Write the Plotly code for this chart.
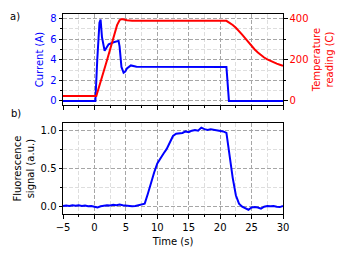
import plotly.graph_objects as go

# ---- data ----
current_time = [-5, 0.15, 0.45, 0.8, 0.98, 1.2, 1.62, 1.9, 2.26, 3.05, 3.84, 4.0, 4.3, 4.64, 4.9, 5.17, 5.8, 6.7, 10, 15, 21.0, 21.4, 30]
current_a = [0, 0, 4.0, 7.6, 7.9, 6.2, 4.87, 5.1, 5.5, 5.7, 5.83, 5.3, 3.3, 2.74, 2.85, 3.16, 3.45, 3.33, 3.33, 3.32, 3.3, 0, 0]

temp_time = [-5, 0.3, 2.0, 3.6, 4.0, 4.38, 5.17, 6.0, 21.0, 21.5, 22, 22.5, 23, 23.5, 24, 24.5, 25, 25.5, 26,
             26.5, 27, 27.5, 28, 28.5, 29, 29.5, 30]
temp_c = [24, 24, 198, 368, 392, 398, 392, 389, 389, 381, 369, 355, 340, 322, 304, 285, 267, 250, 235,
          222, 211, 202, 194, 187, 181, 176, 171]

fluo_time = [-5.0, -4.5, -4.0, -3.5, -3.0, -2.5, -2.0, -1.5, -1.0, -0.5, 0.0, 0.5, 1.0, 1.5, 2.0, 2.5,
             3.0, 3.5, 4.0, 4.5, 5.0, 5.5, 6.0, 6.5, 7.0, 7.5, 8.0, 8.5, 9.0, 9.5, 10.0, 10.5, 11.0,
             11.5, 12.0, 12.5, 13.0, 13.5, 14.0, 14.5, 15.0, 15.5, 16.0, 16.5, 17.0, 17.5, 18.0, 18.5,
             19.0, 19.5, 20.0, 20.5, 21.0, 21.5, 22.0, 22.5, 23.0, 23.5, 24.0, 24.5, 25.0, 25.5, 26.0,
             26.5, 27.0, 27.5, 28.0, 28.5, 29.0, 29.5, 30.0]
fluo_signal = [0.01, 0.015, 0.01, 0.02, 0.012, 0.018, 0.01, 0.015, 0.005, 0.01, 0.0, -0.01, 0.005, 0.01,
               0.02, 0.015, 0.025, 0.02, 0.03, 0.02, 0.015, 0.01, 0.005, 0.01, 0.02, 0.02, 0.04, 0.17,
               0.32, 0.45, 0.57, 0.64, 0.70, 0.76, 0.84, 0.93, 0.96, 0.97, 0.97, 0.99, 0.98, 1.00, 1.01,
               1.00, 1.04, 1.02, 1.01, 1.02, 1.01, 1.00, 1.00, 0.99, 0.97, 0.66, 0.38, 0.15, 0.04, 0.0,
               -0.02, -0.04, -0.01, -0.005, -0.01, -0.025, 0.0, 0.01, 0.005, 0.01, 0.0, -0.005, 0.01]

x_ticks = [-5, 0, 5, 10, 15, 20, 25, 30]
x_labels = ["\u22125", "0", "5", "10", "15", "20", "25", "30"]
current_ticks = [0, 2, 4, 6, 8]
temp_ticks = [0, 200, 400]
fluo_ticks = [0.0, 0.5, 1.0]
fluo_labels = ["0.0", "0.5", "1.0"]

BLUE = "#0000ff"
RED = "#ff0000"
FONT = "DejaVu Sans"
FS = 10
MAJ_GRID = "#a6a6a6"
MIN_GRID = "#dedede"

# the page body adds an 8px offset; compensate so the plot lands where the reference has it
OFF = 8
W, H = 350 - OFF, 260 - OFF
PL, PR, PT, PB = 62.5, 283.3, 14, 214   # plot area in page pixels

fig = go.Figure()
fig.add_trace(go.Scatter(x=current_time, y=current_a, mode="lines",
                         line=dict(color=BLUE, width=2), xaxis="x", yaxis="y", showlegend=False))
fig.add_trace(go.Scatter(x=temp_time, y=temp_c, mode="lines",
                         line=dict(color=RED, width=2), xaxis="x", yaxis="y2", showlegend=False))
fig.add_trace(go.Scatter(x=fluo_time, y=fluo_signal, mode="lines",
                         line=dict(color=BLUE, width=2), xaxis="x2", yaxis="y3", showlegend=False))

common_x = dict(range=[-5, 30], tickvals=x_ticks, ticktext=x_labels, ticks="outside", ticklen=3.5, tickwidth=1,
                tickcolor="black", showline=True, linecolor="black", linewidth=1, mirror=True,
                showgrid=True, gridcolor=MAJ_GRID, griddash="4px,2px", gridwidth=1, zeroline=False,
                automargin=False,
                minor=dict(dtick=2.5, tick0=0, ticks="outside", ticklen=2, tickcolor="black",
                           showgrid=True, gridcolor=MIN_GRID, griddash="4px,2px", gridwidth=1))

ph = PB - PT
top_dom = [(PB - 105) / ph, 1]
bot_dom = [0, (PB - 123.3) / ph]

def px_to_paper_x(px):
    return (px - PL) / (PR - PL)

def py_to_paper_y(py):
    return (PB - py) / ph

fig.update_layout(
    width=W, height=H,
    margin=dict(l=PL - OFF, r=350 - PR, t=PT - OFF, b=260 - PB),
    paper_bgcolor="white", plot_bgcolor="white",
    font=dict(family=FONT, size=FS, color="black"),
    xaxis=dict(common_x, domain=[0, 1], anchor="y", showticklabels=False),
    xaxis2=dict(common_x, domain=[0, 1], anchor="y3", showticklabels=True,
                title=dict(text="Time (s)", font=dict(size=FS), standoff=6)),
    yaxis=dict(domain=top_dom, anchor="x", range=[-0.39, 8.44], tickvals=current_ticks,
               ticks="outside", ticklen=3.5, tickcolor="black", tickfont=dict(color=BLUE),
               showline=True, linecolor="black", mirror=True, zeroline=False, automargin=False,
               showgrid=True, gridcolor=MAJ_GRID, griddash="4px,2px",
               minor=dict(dtick=1, tick0=0, ticks="outside", ticklen=2, tickcolor="black",
                          showgrid=True, gridcolor=MIN_GRID, griddash="4px,2px"),
               title=dict(text="Current (A)", font=dict(color=BLUE, size=FS), standoff=4)),
    yaxis2=dict(overlaying="y", side="right", anchor="x", range=[-19.5, 422], tickvals=temp_ticks,
                ticks="outside", ticklen=3.5, tickcolor="black", tickfont=dict(color=RED),
                showline=False, zeroline=False, showgrid=False, automargin=False,
                minor=dict(dtick=100, tick0=0, ticks="outside", ticklen=2, tickcolor="black", showgrid=False),
                title=dict(text="Temperature<br>reading (C)", font=dict(color=RED, size=FS), standoff=5)),
    yaxis3=dict(domain=bot_dom, anchor="x2", range=[-0.096, 1.097], tickvals=fluo_ticks,
                ticktext=fluo_labels, ticks="outside", ticklen=3.5, tickcolor="black",
                showline=True, linecolor="black", mirror=True, zeroline=False, automargin=False,
                showgrid=True, gridcolor=MAJ_GRID, griddash="4px,2px",
                minor=dict(dtick=0.25, tick0=0, ticks="outside", ticklen=2, tickcolor="black",
                           showgrid=True, gridcolor=MIN_GRID, griddash="4px,2px"),
                title=dict(text="Fluorescence<br>signal (a.u.)", font=dict(size=FS), standoff=4)),
    annotations=[
        dict(text="a)", xref="paper", yref="paper", x=px_to_paper_x(14), y=py_to_paper_y(9),
             showarrow=False, xanchor="center", yanchor="top", font=dict(size=FS)),
        dict(text="b)", xref="paper", yref="paper", x=px_to_paper_x(15), y=py_to_paper_y(113),
             showarrow=False, xanchor="center", yanchor="middle", font=dict(size=FS)),
    ],
)

fig.write_html("out.html")
